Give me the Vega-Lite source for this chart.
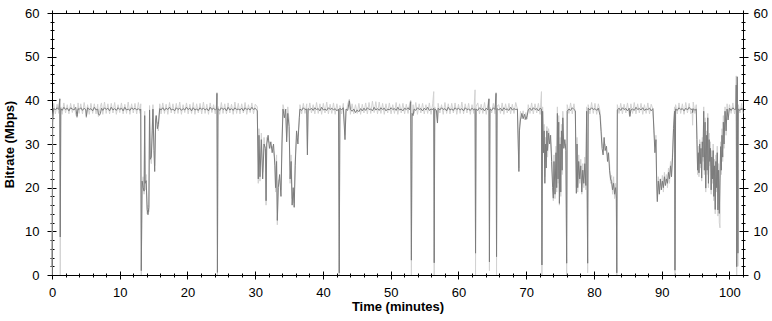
{
"$schema": "https://vega.github.io/schema/vega-lite/v6.json",
"width": 691, "height": 262,
"autosize": "none",
"padding": {"left": 52, "top": 13, "right": 29, "bottom": 46},
"background": "white",
"config": {
  "view": {"stroke": "black", "strokeWidth": 1},
  "axis": {"labelFont": "Liberation Sans", "labelFontSize": 13, "labelColor": "black", "titleFont": "Liberation Sans", "titleFontSize": 13, "titleFontWeight": "bold", "titleColor": "black", "tickColor": "black", "tickWidth": 1, "domain": false, "grid": false, "labelFlush": false, "labelOverlap": false}
},
"data": {"values": [
{"t":0,"a":2,"b":0},{"t":0.1,"a":35,"b":36},{"t":0.25,"a":38.2,"b":39.3},{"t":0.5,"a":37.8,"b":36.9},{"t":0.75,"a":38.3,"b":39.1},{"t":1.0,"a":37.9,"b":37.0},{"t":1.15,"a":40.3,"b":40.5},{"t":1.22,"a":8.7,"b":0},{"t":1.3,"a":38.1,"b":38.5},{"t":1.5,"a":37.7,"b":36.8},{"t":1.75,"a":38.4,"b":39.4},{"t":2.0,"a":37.9,"b":37.1},{"t":2.25,"a":38.2,"b":39.0},{"t":2.5,"a":37.6,"b":36.9},{"t":2.75,"a":38.3,"b":39.3},{"t":3.0,"a":38.0,"b":37.2},{"t":3.25,"a":37.8,"b":39.1},{"t":3.5,"a":38.4,"b":36.8},{"t":3.7,"a":36.3,"b":36.0},{"t":3.85,"a":38.1,"b":39.4},{"t":4.0,"a":37.9,"b":37.0},{"t":4.25,"a":38.3,"b":39.2},{"t":4.5,"a":37.7,"b":36.9},{"t":4.75,"a":38.2,"b":39.5},{"t":5.0,"a":37.8,"b":37.1},{"t":5.07,"a":36.3,"b":36.0},{"t":5.25,"a":38.3,"b":39.0},{"t":5.5,"a":37.9,"b":36.8},{"t":5.75,"a":38.1,"b":39.3},{"t":6.0,"a":37.6,"b":37.0},{"t":6.25,"a":38.4,"b":39.2},{"t":6.5,"a":37.8,"b":36.9},{"t":6.75,"a":38.0,"b":39.1},{"t":6.85,"a":36.8,"b":36.3},{"t":7.0,"a":36.6,"b":37.2},{"t":7.15,"a":37.0,"b":38.6},{"t":7.3,"a":38.2,"b":39.4},{"t":7.5,"a":37.7,"b":36.8},{"t":7.75,"a":38.3,"b":39.6},{"t":8.0,"a":37.9,"b":37.0},{"t":8.25,"a":38.2,"b":39.2},{"t":8.5,"a":37.6,"b":36.9},{"t":8.75,"a":38.4,"b":39.3},{"t":9.0,"a":37.8,"b":37.1},{"t":9.25,"a":38.1,"b":39.5},{"t":9.5,"a":37.7,"b":36.8},{"t":9.75,"a":38.3,"b":39.0},{"t":10.0,"a":37.9,"b":37.2},{"t":10.25,"a":38.2,"b":39.4},{"t":10.5,"a":37.6,"b":36.9},{"t":10.75,"a":38.4,"b":39.1},{"t":11.0,"a":37.8,"b":37.0},{"t":11.25,"a":38.0,"b":39.6},{"t":11.5,"a":37.7,"b":36.8},{"t":11.75,"a":38.3,"b":39.2},{"t":12.0,"a":37.9,"b":37.1},{"t":12.25,"a":38.2,"b":39.3},{"t":12.5,"a":37.8,"b":36.9},{"t":12.75,"a":38.1,"b":39.5},{"t":13.0,"a":37.7,"b":37.0},{"t":13.1,"a":38.0,"b":39.2},{"t":13.18,"a":1.0,"b":0},{"t":13.3,"a":21.5,"b":20.5},{"t":13.45,"a":20.0,"b":22.5},{"t":13.6,"a":19.2,"b":18.5},{"t":13.68,"a":36.5,"b":37.5},{"t":13.75,"a":21.0,"b":19.5},{"t":13.9,"a":21.6,"b":23.0},{"t":14.05,"a":15.0,"b":14.0},{"t":14.17,"a":13.8,"b":16.0},{"t":14.3,"a":15.5,"b":14.5},{"t":14.4,"a":37.8,"b":38.8},{"t":14.5,"a":26.5,"b":27.5},{"t":14.66,"a":27.0,"b":25.5},{"t":14.8,"a":33.0,"b":34.5},{"t":14.9,"a":38.0,"b":39.0},{"t":15.05,"a":28.5,"b":30.0},{"t":15.16,"a":23.7,"b":25.0},{"t":15.3,"a":35.5,"b":36.5},{"t":15.4,"a":36.5,"b":35.0},{"t":15.55,"a":33.5,"b":35.0},{"t":15.7,"a":34.5,"b":33.0},{"t":15.9,"a":38.1,"b":39.2},{"t":16.1,"a":37.8,"b":36.9},{"t":16.35,"a":38.3,"b":39.4},{"t":16.6,"a":37.7,"b":37.0},{"t":16.85,"a":38.2,"b":39.1},{"t":17.1,"a":37.9,"b":36.8},{"t":17.35,"a":38.4,"b":39.5},{"t":17.6,"a":37.8,"b":37.1},{"t":17.85,"a":38.0,"b":39.2},{"t":18.1,"a":37.6,"b":36.9},{"t":18.35,"a":38.3,"b":39.3},{"t":18.6,"a":37.9,"b":37.0},{"t":18.85,"a":38.2,"b":39.6},{"t":19.1,"a":37.7,"b":36.8},{"t":19.35,"a":38.1,"b":39.0},{"t":19.6,"a":37.8,"b":37.2},{"t":19.85,"a":38.4,"b":39.4},{"t":20.1,"a":37.9,"b":36.9},{"t":20.35,"a":38.2,"b":39.1},{"t":20.6,"a":37.6,"b":37.0},{"t":20.85,"a":38.3,"b":39.5},{"t":21.1,"a":37.8,"b":36.8},{"t":21.35,"a":38.0,"b":39.2},{"t":21.6,"a":37.7,"b":37.1},{"t":21.85,"a":38.3,"b":39.3},{"t":22.1,"a":37.9,"b":36.9},{"t":22.35,"a":38.2,"b":39.6},{"t":22.6,"a":37.8,"b":37.0},{"t":22.85,"a":38.1,"b":39.1},{"t":23.1,"a":37.6,"b":36.8},{"t":23.35,"a":38.4,"b":39.4},{"t":23.6,"a":37.9,"b":37.2},{"t":23.85,"a":38.2,"b":39.0},{"t":24.1,"a":37.8,"b":36.9},{"t":24.3,"a":38.0,"b":39.3},{"t":24.35,"a":41.6,"b":41.8},{"t":24.42,"a":0.6,"b":0},{"t":24.5,"a":38.1,"b":38.6},{"t":24.75,"a":37.7,"b":36.8},{"t":25.0,"a":38.3,"b":39.5},{"t":25.25,"a":37.9,"b":37.0},{"t":25.5,"a":38.2,"b":39.2},{"t":25.75,"a":37.6,"b":36.9},{"t":26.0,"a":38.4,"b":39.4},{"t":26.25,"a":37.8,"b":37.1},{"t":26.5,"a":38.1,"b":39.1},{"t":26.75,"a":37.7,"b":36.8},{"t":27.0,"a":38.3,"b":39.6},{"t":27.25,"a":37.9,"b":37.0},{"t":27.5,"a":38.0,"b":39.3},{"t":27.75,"a":37.8,"b":36.9},{"t":28.0,"a":38.2,"b":39.2},{"t":28.25,"a":37.6,"b":37.1},{"t":28.5,"a":38.3,"b":39.5},{"t":28.75,"a":37.9,"b":36.8},{"t":29.0,"a":38.1,"b":39.0},{"t":29.25,"a":37.8,"b":37.2},{"t":29.5,"a":38.4,"b":39.4},{"t":29.75,"a":37.9,"b":36.9},{"t":30.0,"a":38.2,"b":39.1},{"t":30.3,"a":37.6,"b":38.5},{"t":30.45,"a":22.0,"b":21.0},{"t":30.55,"a":32.0,"b":33.5},{"t":30.7,"a":22.5,"b":21.5},{"t":30.9,"a":31.0,"b":32.5},{"t":31.1,"a":22.0,"b":23.5},{"t":31.3,"a":30.0,"b":31.5},{"t":31.5,"a":29.0,"b":28.0},{"t":31.6,"a":17.0,"b":16.0},{"t":31.7,"a":30.0,"b":31.5},{"t":31.9,"a":32.0,"b":30.5},{"t":32.1,"a":29.0,"b":30.5},{"t":32.3,"a":30.5,"b":29.0},{"t":32.5,"a":28.0,"b":29.5},{"t":32.7,"a":30.0,"b":28.5},{"t":32.9,"a":25.0,"b":26.5},{"t":33.0,"a":20.0,"b":19.0},{"t":33.15,"a":26.0,"b":27.5},{"t":33.26,"a":12.5,"b":11.5},{"t":33.4,"a":20.0,"b":21.5},{"t":33.6,"a":23.0,"b":22.0},{"t":33.8,"a":18.0,"b":19.5},{"t":33.95,"a":30.0,"b":31.0},{"t":34.1,"a":38.0,"b":39.0},{"t":34.3,"a":36.0,"b":37.5},{"t":34.5,"a":38.0,"b":36.8},{"t":34.64,"a":30.5,"b":31.5},{"t":34.8,"a":37.0,"b":38.5},{"t":35.0,"a":34.0,"b":35.5},{"t":35.15,"a":22.0,"b":21.0},{"t":35.3,"a":26.0,"b":27.5},{"t":35.45,"a":16.0,"b":17.5},{"t":35.6,"a":20.0,"b":19.0},{"t":35.75,"a":15.5,"b":16.5},{"t":35.9,"a":25.0,"b":26.5},{"t":36.1,"a":33.0,"b":31.5},{"t":36.3,"a":30.0,"b":32.0},{"t":36.5,"a":36.0,"b":35.0},{"t":36.6,"a":38.0,"b":39.0},{"t":36.85,"a":37.7,"b":36.9},{"t":37.1,"a":38.3,"b":39.3},{"t":37.35,"a":37.9,"b":37.0},{"t":37.6,"a":38.0,"b":39.2},{"t":37.7,"a":27.5,"b":29.0},{"t":37.8,"a":38.1,"b":36.8},{"t":38.05,"a":37.8,"b":39.4},{"t":38.3,"a":38.2,"b":37.1},{"t":38.55,"a":37.7,"b":39.0},{"t":38.8,"a":38.3,"b":36.9},{"t":39.05,"a":37.9,"b":39.5},{"t":39.3,"a":38.1,"b":37.0},{"t":39.55,"a":37.6,"b":39.2},{"t":39.8,"a":38.4,"b":36.8},{"t":40.05,"a":37.8,"b":39.3},{"t":40.3,"a":38.0,"b":37.1},{"t":40.55,"a":37.7,"b":39.6},{"t":40.8,"a":38.3,"b":36.9},{"t":41.05,"a":37.9,"b":39.1},{"t":41.3,"a":38.2,"b":37.0},{"t":41.55,"a":37.8,"b":39.4},{"t":41.8,"a":38.1,"b":36.8},{"t":42.05,"a":37.6,"b":39.2},{"t":42.3,"a":38.0,"b":37.2},{"t":42.4,"a":0.5,"b":0},{"t":42.5,"a":38.2,"b":38.8},{"t":42.75,"a":37.8,"b":36.9},{"t":43.0,"a":38.3,"b":39.3},{"t":43.25,"a":31.0,"b":32.0},{"t":43.4,"a":38.0,"b":37.0},{"t":43.65,"a":37.7,"b":39.1},{"t":43.9,"a":39.9,"b":40.3},{"t":44.05,"a":37.9,"b":36.8},{"t":44.3,"a":37.5,"b":39.2},{"t":44.55,"a":38.0,"b":36.9},{"t":44.8,"a":37.2,"b":39.0},{"t":45.05,"a":37.8,"b":37.0},{"t":45.3,"a":37.4,"b":39.3},{"t":45.55,"a":38.1,"b":36.8},{"t":45.8,"a":37.6,"b":39.1},{"t":46.05,"a":38.2,"b":37.1},{"t":46.3,"a":37.7,"b":39.4},{"t":46.55,"a":38.3,"b":36.9},{"t":46.8,"a":37.9,"b":39.5},{"t":47.05,"a":38.0,"b":37.0},{"t":47.3,"a":37.6,"b":39.8},{"t":47.55,"a":38.4,"b":37.2},{"t":47.8,"a":37.8,"b":39.7},{"t":48.05,"a":38.1,"b":36.9},{"t":48.3,"a":37.7,"b":39.6},{"t":48.55,"a":38.3,"b":37.0},{"t":48.8,"a":37.9,"b":39.3},{"t":49.05,"a":38.2,"b":36.8},{"t":49.3,"a":37.6,"b":39.2},{"t":49.55,"a":38.0,"b":37.1},{"t":49.8,"a":37.8,"b":39.4},{"t":50.05,"a":38.3,"b":36.9},{"t":50.3,"a":37.9,"b":39.0},{"t":50.55,"a":38.1,"b":37.0},{"t":50.8,"a":37.7,"b":39.5},{"t":51.05,"a":38.4,"b":36.8},{"t":51.3,"a":37.8,"b":39.2},{"t":51.55,"a":38.0,"b":37.1},{"t":51.8,"a":37.6,"b":39.3},{"t":52.05,"a":38.2,"b":36.9},{"t":52.3,"a":37.9,"b":39.1},{"t":52.55,"a":38.3,"b":37.0},{"t":52.8,"a":37.8,"b":39.4},{"t":52.95,"a":39.7,"b":40.0},{"t":53.05,"a":3.4,"b":0},{"t":53.15,"a":37.0,"b":36.0},{"t":53.3,"a":36.5,"b":39.0},{"t":53.45,"a":38.0,"b":37.0},{"t":53.7,"a":37.7,"b":39.5},{"t":53.95,"a":38.3,"b":36.8},{"t":54.2,"a":37.9,"b":39.2},{"t":54.45,"a":38.1,"b":37.1},{"t":54.7,"a":37.6,"b":39.3},{"t":54.95,"a":38.2,"b":36.9},{"t":55.2,"a":37.8,"b":39.0},{"t":55.45,"a":38.4,"b":37.0},{"t":55.7,"a":37.7,"b":39.4},{"t":55.95,"a":38.0,"b":36.8},{"t":56.2,"a":37.9,"b":39.2},{"t":56.35,"a":38.2,"b":42.0},{"t":56.42,"a":2.8,"b":0},{"t":56.5,"a":38.0,"b":38.5},{"t":56.75,"a":37.7,"b":36.9},{"t":56.9,"a":34.8,"b":35.0},{"t":57.0,"a":38.2,"b":39.3},{"t":57.25,"a":37.8,"b":37.1},{"t":57.5,"a":38.3,"b":39.0},{"t":57.75,"a":37.9,"b":36.8},{"t":58.0,"a":38.1,"b":39.5},{"t":58.25,"a":37.6,"b":37.0},{"t":58.5,"a":38.4,"b":39.2},{"t":58.75,"a":37.8,"b":36.9},{"t":59.0,"a":38.0,"b":39.3},{"t":59.25,"a":37.7,"b":37.1},{"t":59.5,"a":38.3,"b":39.4},{"t":59.75,"a":37.9,"b":36.8},{"t":60.0,"a":38.2,"b":39.1},{"t":60.25,"a":37.8,"b":37.0},{"t":60.5,"a":38.1,"b":39.6},{"t":60.75,"a":37.6,"b":36.9},{"t":61.0,"a":38.3,"b":39.2},{"t":61.25,"a":37.9,"b":37.1},{"t":61.5,"a":38.0,"b":39.3},{"t":61.75,"a":37.7,"b":36.8},{"t":62.0,"a":38.2,"b":39.0},{"t":62.25,"a":37.8,"b":37.0},{"t":62.45,"a":38.1,"b":42.4},{"t":62.52,"a":5.0,"b":0},{"t":62.6,"a":38.0,"b":38.6},{"t":62.85,"a":37.7,"b":39.4},{"t":63.1,"a":38.3,"b":36.9},{"t":63.35,"a":37.9,"b":39.1},{"t":63.6,"a":38.1,"b":37.0},{"t":63.85,"a":37.6,"b":39.5},{"t":64.1,"a":38.2,"b":36.8},{"t":64.35,"a":37.8,"b":39.2},{"t":64.5,"a":40.3,"b":40.5},{"t":64.57,"a":3.0,"b":1.0},{"t":64.65,"a":38.0,"b":38.4},{"t":64.9,"a":37.7,"b":37.1},{"t":65.15,"a":38.3,"b":39.3},{"t":65.4,"a":37.9,"b":36.9},{"t":65.55,"a":41.6,"b":41.8},{"t":65.62,"a":4.2,"b":0},{"t":65.7,"a":38.1,"b":38.7},{"t":65.95,"a":37.8,"b":39.0},{"t":66.2,"a":38.2,"b":37.0},{"t":66.45,"a":37.6,"b":39.4},{"t":66.7,"a":38.3,"b":36.8},{"t":66.95,"a":37.9,"b":39.2},{"t":67.2,"a":38.0,"b":37.1},{"t":67.45,"a":37.7,"b":39.3},{"t":67.7,"a":38.4,"b":36.9},{"t":67.95,"a":37.8,"b":39.1},{"t":68.2,"a":38.1,"b":37.0},{"t":68.45,"a":37.9,"b":39.5},{"t":68.7,"a":38.0,"b":38.0},{"t":68.82,"a":30.0,"b":31.0},{"t":68.92,"a":23.7,"b":24.5},{"t":69.0,"a":33.0,"b":34.0},{"t":69.15,"a":35.5,"b":37.5},{"t":69.35,"a":37.0,"b":35.8},{"t":69.55,"a":35.8,"b":37.6},{"t":69.75,"a":36.8,"b":35.5},{"t":69.95,"a":35.6,"b":37.2},{"t":70.15,"a":36.5,"b":35.7},{"t":70.3,"a":37.8,"b":39.0},{"t":70.55,"a":38.2,"b":37.0},{"t":70.8,"a":37.7,"b":39.4},{"t":71.05,"a":38.3,"b":36.9},{"t":71.3,"a":37.9,"b":39.2},{"t":71.55,"a":38.1,"b":37.1},{"t":71.8,"a":37.6,"b":39.3},{"t":72.05,"a":38.2,"b":36.8},{"t":72.25,"a":38.0,"b":42.0},{"t":72.32,"a":2.3,"b":0},{"t":72.42,"a":37.5,"b":38.5},{"t":72.55,"a":28.0,"b":29.5},{"t":72.65,"a":33.0,"b":34.5},{"t":72.75,"a":21.0,"b":22.5},{"t":72.85,"a":30.0,"b":31.5},{"t":72.95,"a":24.5,"b":26.0},{"t":73.05,"a":33.0,"b":34.0},{"t":73.15,"a":28.5,"b":27.0},{"t":73.3,"a":32.5,"b":33.5},{"t":73.45,"a":30.0,"b":31.5},{"t":73.6,"a":32.0,"b":30.5},{"t":73.75,"a":26.0,"b":27.5},{"t":73.9,"a":20.0,"b":21.5},{"t":74.0,"a":17.6,"b":17.0},{"t":74.1,"a":26.0,"b":27.5},{"t":74.25,"a":18.5,"b":17.5},{"t":74.4,"a":28.0,"b":29.5},{"t":74.5,"a":20.0,"b":19.0},{"t":74.6,"a":37.0,"b":38.5},{"t":74.7,"a":22.0,"b":21.0},{"t":74.8,"a":35.0,"b":36.5},{"t":74.9,"a":16.4,"b":16.0},{"t":75.0,"a":30.0,"b":31.5},{"t":75.1,"a":19.0,"b":18.0},{"t":75.2,"a":33.0,"b":34.5},{"t":75.3,"a":24.0,"b":23.0},{"t":75.4,"a":36.0,"b":37.5},{"t":75.55,"a":29.0,"b":30.5},{"t":75.7,"a":31.0,"b":29.5},{"t":75.85,"a":28.5,"b":30.0},{"t":75.97,"a":2.7,"b":0},{"t":76.05,"a":37.5,"b":39.0},{"t":76.3,"a":38.0,"b":37.0},{"t":76.55,"a":37.7,"b":39.4},{"t":76.8,"a":38.3,"b":36.9},{"t":77.05,"a":37.9,"b":39.2},{"t":77.25,"a":37.6,"b":37.0},{"t":77.4,"a":18.7,"b":20.0},{"t":77.5,"a":30.0,"b":31.5},{"t":77.6,"a":20.0,"b":19.0},{"t":77.75,"a":26.0,"b":27.5},{"t":77.9,"a":22.0,"b":21.0},{"t":78.05,"a":25.0,"b":26.5},{"t":78.2,"a":19.0,"b":18.5},{"t":78.35,"a":24.0,"b":25.5},{"t":78.5,"a":21.0,"b":20.0},{"t":78.65,"a":25.5,"b":27.0},{"t":78.8,"a":20.5,"b":19.5},{"t":78.92,"a":37.5,"b":38.5},{"t":79.07,"a":2.7,"b":0.5},{"t":79.15,"a":38.2,"b":39.0},{"t":79.4,"a":37.8,"b":36.9},{"t":79.65,"a":38.3,"b":39.5},{"t":79.9,"a":37.9,"b":37.0},{"t":80.15,"a":38.1,"b":39.3},{"t":80.4,"a":37.7,"b":36.8},{"t":80.65,"a":38.2,"b":39.2},{"t":80.9,"a":36.5,"b":37.5},{"t":81.05,"a":32.8,"b":34.0},{"t":81.2,"a":29.0,"b":30.5},{"t":81.35,"a":27.5,"b":29.0},{"t":81.5,"a":31.5,"b":30.0},{"t":81.65,"a":28.5,"b":30.0},{"t":81.85,"a":29.5,"b":28.0},{"t":82.0,"a":26.0,"b":27.5},{"t":82.15,"a":28.0,"b":26.5},{"t":82.3,"a":24.0,"b":25.5},{"t":82.45,"a":22.0,"b":21.0},{"t":82.6,"a":21.4,"b":22.8},{"t":82.75,"a":19.5,"b":18.5},{"t":82.9,"a":21.0,"b":22.5},{"t":83.05,"a":18.5,"b":17.5},{"t":83.2,"a":20.0,"b":21.0},{"t":83.3,"a":17.6,"b":18.5},{"t":83.37,"a":0.5,"b":0},{"t":83.45,"a":37.8,"b":39.0},{"t":83.7,"a":38.2,"b":37.0},{"t":83.95,"a":37.7,"b":39.3},{"t":84.2,"a":38.3,"b":36.9},{"t":84.45,"a":37.9,"b":39.1},{"t":84.7,"a":38.1,"b":37.1},{"t":84.95,"a":37.6,"b":39.4},{"t":85.2,"a":38.2,"b":36.8},{"t":85.3,"a":36.3,"b":36.5},{"t":85.45,"a":37.8,"b":39.2},{"t":85.7,"a":38.0,"b":37.0},{"t":85.95,"a":37.7,"b":39.5},{"t":86.2,"a":38.4,"b":36.9},{"t":86.45,"a":37.9,"b":39.2},{"t":86.7,"a":38.1,"b":37.1},{"t":86.95,"a":37.8,"b":39.3},{"t":87.2,"a":38.3,"b":36.8},{"t":87.45,"a":37.7,"b":39.0},{"t":87.7,"a":38.0,"b":37.0},{"t":87.95,"a":37.9,"b":39.4},{"t":88.2,"a":38.2,"b":36.9},{"t":88.45,"a":37.6,"b":39.1},{"t":88.7,"a":38.1,"b":38.0},{"t":88.85,"a":33.0,"b":34.0},{"t":89.0,"a":28.0,"b":29.5},{"t":89.15,"a":31.0,"b":32.0},{"t":89.25,"a":22.0,"b":21.0},{"t":89.35,"a":16.8,"b":17.5},{"t":89.5,"a":21.5,"b":22.5},{"t":89.65,"a":18.5,"b":19.5},{"t":89.8,"a":22.0,"b":21.0},{"t":89.95,"a":19.5,"b":20.5},{"t":90.1,"a":21.5,"b":22.8},{"t":90.25,"a":20.0,"b":19.0},{"t":90.4,"a":22.5,"b":23.5},{"t":90.55,"a":20.5,"b":21.5},{"t":90.7,"a":22.0,"b":23.0},{"t":90.85,"a":21.0,"b":20.0},{"t":91.0,"a":23.5,"b":24.5},{"t":91.15,"a":22.0,"b":21.0},{"t":91.3,"a":25.0,"b":26.0},{"t":91.45,"a":22.5,"b":23.5},{"t":91.6,"a":27.0,"b":28.0},{"t":91.75,"a":33.5,"b":34.5},{"t":91.9,"a":37.5,"b":38.5},{"t":91.96,"a":1.1,"b":0},{"t":92.05,"a":38.0,"b":39.0},{"t":92.3,"a":37.7,"b":36.9},{"t":92.55,"a":38.3,"b":39.4},{"t":92.8,"a":37.9,"b":37.0},{"t":93.05,"a":38.1,"b":39.2},{"t":93.3,"a":37.6,"b":36.8},{"t":93.55,"a":38.2,"b":39.5},{"t":93.8,"a":37.8,"b":37.1},{"t":94.05,"a":38.4,"b":39.3},{"t":94.3,"a":37.9,"b":36.9},{"t":94.5,"a":38.0,"b":37.5},{"t":94.56,"a":37.2,"b":34.3},{"t":94.65,"a":38.1,"b":39.6},{"t":94.9,"a":37.7,"b":37.0},{"t":95.1,"a":38.0,"b":39.0},{"t":95.2,"a":31.0,"b":32.0},{"t":95.3,"a":24.0,"b":23.0},{"t":95.4,"a":28.0,"b":29.5},{"t":95.5,"a":23.4,"b":22.5},{"t":95.6,"a":30.0,"b":31.0},{"t":95.7,"a":25.5,"b":24.5},{"t":95.8,"a":29.0,"b":30.5},{"t":95.9,"a":22.2,"b":21.5},{"t":96.0,"a":30.5,"b":31.5},{"t":96.1,"a":27.0,"b":26.0},{"t":96.2,"a":37.5,"b":38.5},{"t":96.3,"a":24.0,"b":23.0},{"t":96.4,"a":35.0,"b":36.0},{"t":96.5,"a":19.9,"b":19.0},{"t":96.6,"a":32.0,"b":33.0},{"t":96.7,"a":24.0,"b":23.0},{"t":96.8,"a":36.0,"b":37.0},{"t":96.9,"a":21.0,"b":20.0},{"t":97.0,"a":31.0,"b":32.5},{"t":97.1,"a":26.0,"b":25.0},{"t":97.2,"a":29.0,"b":30.5},{"t":97.3,"a":19.5,"b":18.5},{"t":97.4,"a":27.0,"b":28.5},{"t":97.5,"a":22.0,"b":21.0},{"t":97.6,"a":28.5,"b":30.0},{"t":97.7,"a":18.0,"b":17.0},{"t":97.8,"a":25.0,"b":26.5},{"t":97.9,"a":15.0,"b":14.0},{"t":98.0,"a":26.0,"b":27.5},{"t":98.1,"a":20.0,"b":19.0},{"t":98.2,"a":28.0,"b":29.5},{"t":98.3,"a":14.9,"b":13.5},{"t":98.4,"a":24.0,"b":25.5},{"t":98.5,"a":14.1,"b":12.0},{"t":98.6,"a":22.0,"b":10.8},{"t":98.7,"a":29.4,"b":30.5},{"t":98.8,"a":24.0,"b":23.0},{"t":98.9,"a":32.0,"b":33.5},{"t":99.0,"a":27.0,"b":26.0},{"t":99.1,"a":35.0,"b":36.5},{"t":99.2,"a":30.0,"b":29.0},{"t":99.35,"a":37.5,"b":38.5},{"t":99.5,"a":33.0,"b":32.0},{"t":99.65,"a":38.0,"b":39.2},{"t":99.8,"a":35.5,"b":36.5},{"t":100.0,"a":38.2,"b":39.0},{"t":100.25,"a":37.7,"b":37.0},{"t":100.5,"a":38.3,"b":39.4},{"t":100.75,"a":37.9,"b":36.9},{"t":100.95,"a":38.0,"b":39.0},{"t":101.0,"a":43.5,"b":45.6},{"t":101.07,"a":1.9,"b":0},{"t":101.15,"a":45.4,"b":44.0},{"t":101.25,"a":5.0,"b":2.0},{"t":101.3,"a":38.0,"b":39.0},{"t":101.55,"a":37.7,"b":37.1},{"t":101.8,"a":38.2,"b":39.3},{"t":102.0,"a":37.9,"b":37.0}
]},
"layer": [
  {"mark": {"type": "line", "color": "#d2d2d2", "strokeWidth": 1},
   "encoding": {
     "x": {"field": "t", "type": "quantitative", "scale": {"domain": [0, 102], "nice": false, "zero": false},
           "axis": {"orient": "bottom", "values": [0,10,20,30,40,50,60,70,80,90,100], "tickSize": 8, "offset": -4, "labelPadding": 7, "title": "Time (minutes)", "titlePadding": 1}},
     "y": {"field": "b", "type": "quantitative", "scale": {"domain": [0, 60], "nice": false},
           "axis": {"orient": "left", "values": [0,10,20,30,40,50,60], "tickSize": 9, "offset": -4, "labelPadding": 8, "title": "Bitrate (Mbps)", "titlePadding": 8}}
   }},
  {"mark": {"type": "line", "color": "#7c7c7c", "strokeWidth": 1},
   "encoding": {
     "x": {"field": "t", "type": "quantitative",
           "axis": {"orient": "bottom", "values": [0,2,4,6,8,10,12,14,16,18,20,22,24,26,28,30,32,34,36,38,40,42,44,46,48,50,52,54,56,58,60,62,64,66,68,70,72,74,76,78,80,82,84,86,88,90,92,94,96,98,100,102], "tickSize": 4, "offset": -2, "labels": false, "title": null}},
     "y": {"field": "a", "type": "quantitative",
           "axis": {"orient": "left", "values": [0,2,4,6,8,10,12,14,16,18,20,22,24,26,28,30,32,34,36,38,40,42,44,46,48,50,52,54,56,58,60], "tickSize": 4, "offset": -2, "labels": false, "title": null}}
   }},
  {"mark": {"type": "line", "opacity": 0},
   "encoding": {
     "x": {"field": "t", "type": "quantitative",
           "axis": {"orient": "top", "values": [0,2,4,6,8,10,12,14,16,18,20,22,24,26,28,30,32,34,36,38,40,42,44,46,48,50,52,54,56,58,60,62,64,66,68,70,72,74,76,78,80,82,84,86,88,90,92,94,96,98,100,102], "tickSize": 3, "labels": false, "title": null}},
     "y": {"field": "a", "type": "quantitative",
           "axis": {"orient": "right", "values": [0,10,20,30,40,50,60], "tickSize": 9, "offset": -4, "labelPadding": 5, "title": null}}
   }},
  {"mark": {"type": "line", "opacity": 0},
   "encoding": {
     "x": {"field": "t", "type": "quantitative", "axis": null},
     "y": {"field": "a", "type": "quantitative",
           "axis": {"orient": "right", "values": [0,2,4,6,8,10,12,14,16,18,20,22,24,26,28,30,32,34,36,38,40,42,44,46,48,50,52,54,56,58,60], "tickSize": 4, "offset": -2, "labels": false, "title": null}}
   }}
],
"resolve": {"axis": {"x": "independent", "y": "independent"}}
}
